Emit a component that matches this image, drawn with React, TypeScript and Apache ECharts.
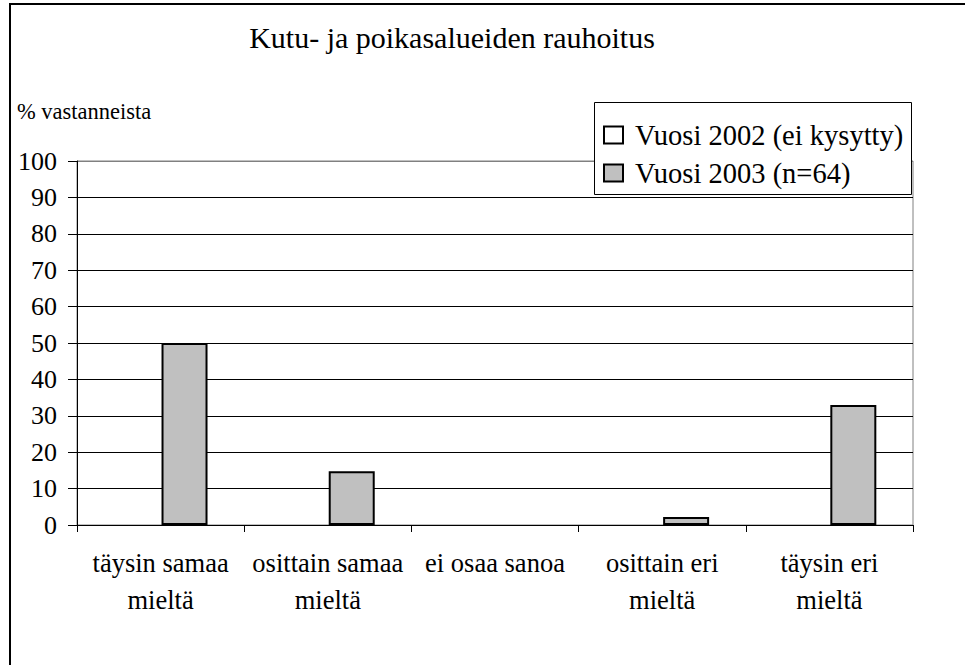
import React, { useEffect, useRef } from "react";
import * as echarts from "echarts";

const categories = [
  "täysin samaa\nmieltä",
  "osittain samaa\nmieltä",
  "ei osaa sanoa",
  "osittain eri\nmieltä",
  "täysin eri\nmieltä",
];
const series2002Name = "Vuosi 2002 (ei kysytty)";
const series2003Name = "Vuosi 2003 (n=64)";
const values2002: (number | string)[] = ["-", "-", "-", "-", "-"];
const values2003 = [50, 14.8, 0, 2.2, 33];
const yTicks = { min: 0, max: 100, interval: 10 };
const titleText = "Kutu- ja poikasalueiden rauhoitus";
const yAxisTitle = "% vastanneista";

const FONT = "Liberation Serif";

export default function App() {
  const ref = useRef<HTMLDivElement>(null);
  useEffect(() => {
    if (!ref.current) return;
    const chart = echarts.init(ref.current, undefined, { renderer: "svg" });
    const splitColors = [] as string[];
    for (let v = yTicks.min; v <= yTicks.max; v += yTicks.interval) {
      splitColors.push(v === yTicks.max ? "#808080" : "#000000");
    }
    chart.setOption({
      animation: false,
      backgroundColor: "#ffffff",
      textStyle: { fontFamily: FONT, color: "#000" },
      grid: {
        left: 77,
        right: 52,
        top: 161,
        bottom: 140,
        show: true,
        borderColor: "#808080",
        borderWidth: 1,
        backgroundColor: "#ffffff",
      },
      graphic: [
        {
          type: "rect",
          shape: { x: 10, y: 4, width: 1000, height: 1000 },
          style: { fill: "none", stroke: "#000", lineWidth: 2 },
          z: 1,
          silent: true,
        },
        {
          type: "text",
          x: 452,
          y: 37,
          style: {
            text: titleText,
            fontFamily: FONT,
            fontSize: 30,
            fill: "#000",
            align: "center",
            verticalAlign: "middle",
          },
        },
        {
          type: "text",
          x: 17,
          y: 111,
          style: {
            text: yAxisTitle,
            fontFamily: FONT,
            fontSize: 22.5,
            fill: "#000",
            align: "left",
            verticalAlign: "middle",
          },
        },
        {
          type: "rect",
          shape: { x: 594.5, y: 102.5, width: 317, height: 92 },
          style: { fill: "#fff", stroke: "#000", lineWidth: 1 },
          z: 3,
          silent: true,
        },
      ],
      legend: {
        orient: "vertical",
        left: 594,
        top: 102,
        padding: [18, 8, 7, 9],
        itemWidth: 19,
        itemHeight: 17,
        itemGap: 8,
        icon: "rect",
        z: 4,
        textStyle: {
          fontFamily: FONT,
          fontSize: 28.5,
          lineHeight: 30,
          color: "#000",
          padding: [0, 0, 0, 7],
        },
        data: [series2002Name, series2003Name],
      },
      xAxis: {
        type: "category",
        data: categories,
        axisLine: { lineStyle: { color: "#000", width: 1 } },
        axisTick: { show: true, length: 7, interval: 0, lineStyle: { color: "#000" } },
        axisLabel: {
          interval: 0,
          fontFamily: FONT,
          fontSize: 26.5,
          lineHeight: 37,
          color: "#000",
          margin: 19,
        },
        splitLine: { show: false },
      },
      yAxis: {
        type: "value",
        min: yTicks.min,
        max: yTicks.max,
        interval: yTicks.interval,
        axisLine: { show: true, lineStyle: { color: "#000", width: 1 } },
        axisTick: { show: true, length: 9, lineStyle: { color: "#000" } },
        axisLabel: { fontFamily: FONT, fontSize: 26, color: "#000", margin: 20 },
        splitLine: { show: true, lineStyle: { color: splitColors, width: 1 } },
      },
      series: [
        {
          name: series2002Name,
          type: "bar",
          data: values2002,
          barWidth: 46,
          barGap: "4%",
          itemStyle: { color: "#ffffff", borderColor: "#000", borderWidth: 1 },
        },
        {
          name: series2003Name,
          type: "bar",
          data: values2003.map((v) =>
            v === 0 ? { value: v, itemStyle: { borderWidth: 0 } } : v
          ),
          barWidth: 46,
          barGap: "4%",
          itemStyle: { color: "#c0c0c0", borderColor: "#000", borderWidth: 2 },
        },
      ],
    });
    return () => chart.dispose();
  }, []);
  return (
    <div
      ref={ref}
      style={{ position: "absolute", left: 0, top: 0, width: 965, height: 665 }}
    />
  );
}
